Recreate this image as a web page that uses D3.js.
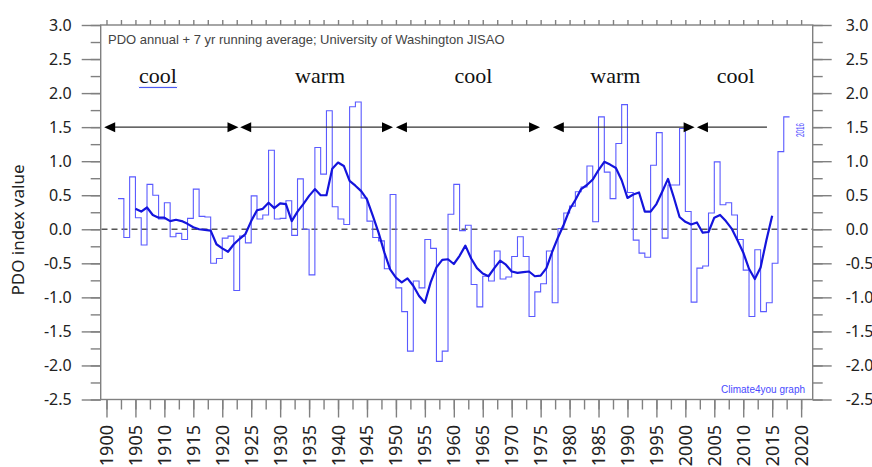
<!DOCTYPE html>
<meta charset="utf-8">
<style>
    body { margin: 0; background: #fff; }
    svg { display: block; }
    .eixo line { stroke: #808080; stroke-width: 1.4px; }
    .eixo text { fill: #222; font-family: "Noto Sans", sans-serif; font-size: 16px; }
</style>
<script src="https://cdn.jsdelivr.net/npm/d3@7"></script>
<svg width="872" height="467"></svg>
<script>
    // Annual PDO values, one step per year (year = left edge of the step as drawn on the axis)
    var anosInicio = 1902;
    var pdoAnual = [
        0.45, -0.12, 0.77, 0.17, -0.23, 0.66, 0.50, 0.15, 0.39, -0.11,
        -0.06, -0.15, 0.16, 0.59, 0.19, 0.18, -0.50, -0.43, -0.13, -0.10,
        -0.90, -0.10, -0.20, 0.49, 0.15, 0.21, 1.16, 0.15, 0.16, 0.42,
        -0.09, 0.74, 0.00, -0.67, 1.20, 0.81, 1.74, 0.33, 0.15, 0.07,
        1.80, 1.87, 0.46, 0.12, -0.12, -0.17, -0.58, 0.51, -0.86, -1.21,
        -1.79, -0.76, -0.86, -0.15, -0.28, -1.94, -1.79, 0.22, 0.66, -0.02,
        0.06, -0.81, -1.14, -0.69, -0.76, -0.32, -0.73, -0.70, -0.40, -0.11,
        -0.40, -1.28, -0.92, -0.80, -0.32, -1.08, 0.01, 0.24, 0.34, 0.55,
        0.62, 0.93, 0.11, 1.65, 0.84, 0.45, 1.26, 1.83, 0.54, -0.16,
        -0.35, -0.41, 0.94, 1.42, -0.13, 0.65, 0.65, 1.48, 0.26, -1.07,
        -0.57, -0.54, 0.24, 0.99, 0.36, 0.39, 0.21, -0.15, -0.60, -1.28,
        -0.30, -1.21, -1.08, -0.50, 1.14, 1.65
    ];

    // 7 yr running average as drawn
    var mediaInicio = 1905;
    var mediaMovel = [
        0.30, 0.26, 0.32, 0.21, 0.17, 0.17, 0.12, 0.14, 0.12, 0.08,
        0.03, 0.00, -0.01, -0.02, -0.22, -0.28, -0.33, -0.22, -0.14, -0.07,
        0.12, 0.28, 0.30, 0.39, 0.31, 0.38, 0.37, 0.12, 0.26, 0.37,
        0.49, 0.59, 0.50, 0.50, 0.89, 0.98, 0.93, 0.71, 0.64, 0.56,
        0.44, 0.20, -0.05, -0.34, -0.59, -0.71, -0.78, -0.72, -0.83, -0.98,
        -1.08, -0.78, -0.56, -0.45, -0.44, -0.51, -0.39, -0.24, -0.43, -0.57,
        -0.65, -0.69, -0.57, -0.46, -0.52, -0.62, -0.64, -0.63, -0.62, -0.69,
        -0.68, -0.57, -0.33, -0.12, 0.07, 0.29, 0.43, 0.59, 0.65, 0.73,
        0.87, 0.99, 0.95, 0.90, 0.72, 0.46, 0.51, 0.54, 0.26, 0.26,
        0.37, 0.55, 0.74, 0.47, 0.18, 0.11, 0.07, 0.10, -0.05, -0.04,
        0.17, 0.21, 0.12, 0.01, -0.16, -0.34, -0.58, -0.73, -0.56, -0.16,
        0.20
    ];

    // regimes (arrows at PDO = 1.5)
    var regimeNomes = ["cool", "warm", "cool", "warm", "cool"];
    var regimeInicio = [1899.6, 1923.1, 1950.0, 1977.1, 2002.0];
    var regimeFim = [1922.8, 1949.5, 1974.9, 2001.6, 2014.1];
    var regimeSetaFim = [true, true, true, true, false];
    var regimeCentro = [1908.9, 1936.9, 1963.4, 1987.9, 2008.7];

    var ticksAnos = d3.range(1900, 2021, 5);
    var ticksAnosMenores = d3.range(1900, 2021, 2.5);
    var ticksPdo = d3.range(-2.5, 3.01, 0.5);
    var ticksPdoMenores = d3.range(-2.5, 3.01, 0.25);

    var svg = d3.select("svg");
    var x = d3.scaleLinear().domain([1899, 2022]).range([100.7, 812.7]);
    var y = d3.scaleLinear().domain([-2.5, 3]).range([399.5, 25]);
    var fmt = function (d) { return d.toFixed(1); };

    // axes
    svg.append("g").attr("class", "eixo").attr("transform", "translate(100.7,0)")
        .call(d3.axisLeft(y).tickValues(ticksPdoMenores).tickSize(10).tickFormat(""));
    svg.append("g").attr("class", "eixo").attr("transform", "translate(100.7,0)")
        .call(d3.axisLeft(y).tickValues(ticksPdo).tickSize(19).tickPadding(10).tickFormat(fmt));
    svg.append("g").attr("class", "eixo").attr("transform", "translate(812.7,0)")
        .call(d3.axisRight(y).tickValues(ticksPdoMenores).tickSize(10).tickFormat(""));
    svg.append("g").attr("class", "eixo").attr("transform", "translate(812.7,0)")
        .call(d3.axisRight(y).tickValues(ticksPdo).tickSize(19).tickPadding(14).tickFormat(fmt));
    svg.append("g").attr("class", "eixo").attr("transform", "translate(0,399.5)")
        .call(d3.axisBottom(x).tickValues(ticksAnosMenores).tickSize(10).tickFormat(""));
    svg.append("g").attr("class", "eixo").attr("transform", "translate(0,399.5)")
        .call(d3.axisBottom(x).tickValues(ticksAnos).tickSize(18).tickFormat(""));
    svg.append("g").attr("class", "eixo").attr("transform", "translate(0,25)")
        .call(d3.axisTop(x).tickValues(ticksAnosMenores).tickSize(5).tickFormat(""));
    svg.selectAll(".eixo .domain").remove();

    svg.append("g").selectAll("text")
        .data(ticksAnos)
        .enter().append("text")
        .attr("transform", function (d) { return "translate(" + x(d) + ",425) rotate(-90)"; })
        .attr("text-anchor", "end")
        .attr("dy", "0.36em")
        .style("font-family", "'Noto Sans', sans-serif")
        .style("font-size", "18px")
        .style("fill", "#222")
        .text(function (d) { return d; });

    svg.append("text")
        .attr("transform", "translate(24,230) rotate(-90)")
        .attr("text-anchor", "middle")
        .style("font-family", "'Noto Sans', sans-serif")
        .style("font-size", "17px")
        .style("fill", "#222")
        .text("PDO index value");

    // frame
    svg.append("rect")
        .attr("x", 100.7).attr("y", 25)
        .attr("width", 712).attr("height", 374.5)
        .attr("fill", "none").attr("stroke", "#808080").attr("stroke-width", 1.4);

    // zero line
    svg.append("line")
        .attr("x1", 101.5).attr("x2", 812)
        .attr("y1", y(0)).attr("y2", y(0))
        .attr("stroke", "#555").attr("stroke-width", 1.5)
        .attr("stroke-dasharray", "6,4");

    // annual steps
    var passos = pdoAnual.map(function (v, i) { return [anosInicio + i, v]; });
    passos.push([anosInicio + pdoAnual.length, pdoAnual[pdoAnual.length - 1]]);
    var linhaPasso = d3.line()
        .x(function (d) { return x(d[0]); })
        .y(function (d) { return y(d[1]); })
        .curve(d3.curveStepAfter);
    svg.append("path")
        .attr("d", linhaPasso(passos))
        .attr("fill", "none")
        .attr("stroke", "#5a5aff")
        .attr("stroke-width", 1.1);

    // running average
    var linhaMedia = d3.line()
        .x(function (d, i) { return x(mediaInicio + i); })
        .y(function (d) { return y(d); });
    svg.append("path")
        .attr("d", linhaMedia(mediaMovel))
        .attr("fill", "none")
        .attr("stroke", "#1414dc")
        .attr("stroke-width", 2.2)
        .attr("stroke-linejoin", "round");

    // regime arrows
    var yS = y(1.5);
    var setas = svg.append("g");
    regimeNomes.forEach(function (nome, i) {
        var a = x(regimeInicio[i]), b = x(regimeFim[i]);
        setas.append("line")
            .attr("x1", a + 6).attr("x2", regimeSetaFim[i] ? b - 6 : b)
            .attr("y1", yS).attr("y2", yS)
            .attr("stroke", "#333").attr("stroke-width", 1.2);
        setas.append("path")
            .attr("d", "M" + a + "," + yS + "L" + (a + 11) + "," + (yS - 5) + "L" + (a + 11) + "," + (yS + 5) + "Z")
            .attr("fill", "#000");
        if (regimeSetaFim[i]) {
            setas.append("path")
                .attr("d", "M" + b + "," + yS + "L" + (b - 11) + "," + (yS - 5) + "L" + (b - 11) + "," + (yS + 5) + "Z")
                .attr("fill", "#000");
        }
        setas.append("text")
            .attr("x", x(regimeCentro[i]))
            .attr("y", y(2.15))
            .attr("text-anchor", "middle")
            .style("font-family", "'Liberation Serif', serif")
            .style("font-size", "22px")
            .style("fill", "#111")
            .text(nome);
    });

    // spell-check squiggle under the first label
    var sx0 = x(regimeCentro[0]) - 19, sx1 = x(regimeCentro[0]) + 19, sy = y(2.15) + 4;
    var onda = "M" + sx0 + "," + sy;
    for (var k = sx0; k < sx1; k += 2) {
        onda += "L" + (k + 1) + "," + (sy + 1.2) + "L" + (k + 2) + "," + sy;
    }
    svg.append("path").attr("d", onda).attr("fill", "none").attr("stroke", "#3344ee").attr("stroke-width", 0.9);

    // notes
    svg.append("text")
        .attr("x", 108).attr("y", 44)
        .style("font-family", "'Liberation Sans', Arial, sans-serif")
        .style("font-size", "13px")
        .style("fill", "#444")
        .text("PDO annual + 7 yr running average; University of Washington JISAO");

    svg.append("text")
        .attr("x", 805).attr("y", 393)
        .attr("text-anchor", "end")
        .style("font-family", "'Liberation Sans', Arial, sans-serif")
        .style("font-size", "10px")
        .style("fill", "#4a4aff")
        .text("Climate4you graph");

    svg.append("text")
        .attr("transform", "translate(804,130) rotate(-90)")
        .attr("text-anchor", "middle")
        .attr("textLength", 14)
        .attr("lengthAdjust", "spacingAndGlyphs")
        .style("font-family", "'Liberation Sans', Arial, sans-serif")
        .style("font-size", "10px")
        .style("fill", "#4a4aff")
        .text("2016");
</script>
